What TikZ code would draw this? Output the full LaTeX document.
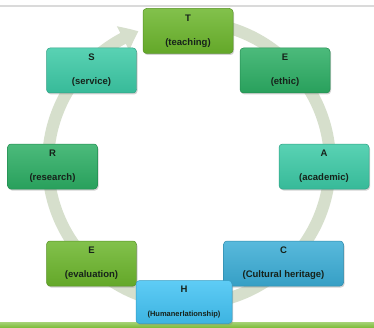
\documentclass[tikz,border=0pt]{standalone}
\usepackage{fontspec}
\setmainfont{Liberation Sans}
\usepackage{tikz}
\usetikzlibrary{arrows.meta,positioning,calc,shadows,bending}
\definecolor{cyring}{RGB}{214,223,204}
\definecolor{cyline}{RGB}{218,218,218}
\definecolor{cybar}{RGB}{128,190,62}
\definecolor{cylime}{RGB}{108,182,44}
\definecolor{cygreen}{RGB}{44,174,100}
\definecolor{cyteal}{RGB}{60,202,166}
\definecolor{cyblue}{RGB}{59,173,214}
\definecolor{cysky}{RGB}{66,195,244}
\definecolor{cyink}{RGB}{22,34,26}
\tikzset{
  cybox/.style={
    draw=#1!80!black, line width=0.5pt, rounded corners=3.5pt,
    top color=#1!85!white, bottom color=#1!92!black,
    align=center, inner sep=0pt, text=cyink,
    font=\fontsize{9.5}{24}\selectfont\bfseries,
    minimum width=90pt, minimum height=45pt,
    drop shadow={shadow xshift=1pt, shadow yshift=-1.5pt, opacity=0.35}
  },
  lime/.style={cybox=cylime},
  grn/.style={cybox=cygreen},
  teal/.style={cybox=cyteal},
  blu/.style={cybox=cyblue},
  sky/.style={cybox=cysky},
  ring/.style={draw=cyring, line width=12pt,
    -{Triangle[length=17pt,width=26pt,bend]}}
}
\begin{document}
\begin{tikzpicture}[x=1pt,y=1pt]
  \useasboundingbox (0,0) rectangle (374,327);
  \fill[white] (0,0) rectangle (374,327);
  % frame lines
  \fill[cyline] (0,320) rectangle (374,322);
  \shade[top color=cybar!70!white, bottom color=cybar] (0,0) rectangle (374,5);
  % cycle arrow
  \coordinate (ctr) at (189,164);
  \draw[ring] ($(ctr)+(80:141)$) arc[start angle=80, end angle=-249, radius=141];
  % boxes
  \node[lime] (t) at (188,296) {T\\(teaching)};
  \node[grn] (e) at (285,256.5) {E\\(ethic)};
  \node[teal] (a) at (324,160.5) {A\\(academic)};
  \node[blu, minimum width=120pt] (c) at (283.5,63.5) {C\\(Cultural heritage)};
  \node[lime] (ev) at (91.5,63.5) {E\\(evaluation)};
  \node[grn] (r) at (52.5,160.5) {R\\(research)};
  \node[teal] (s) at (91.5,256.5) {S\\(service)};
  \node[sky, minimum width=96pt, minimum height=43pt] (h) at (184,25)
    {H\\{\fontsize{7.5}{24}\selectfont(Humanerlationship)}};
\end{tikzpicture}
\end{document}
